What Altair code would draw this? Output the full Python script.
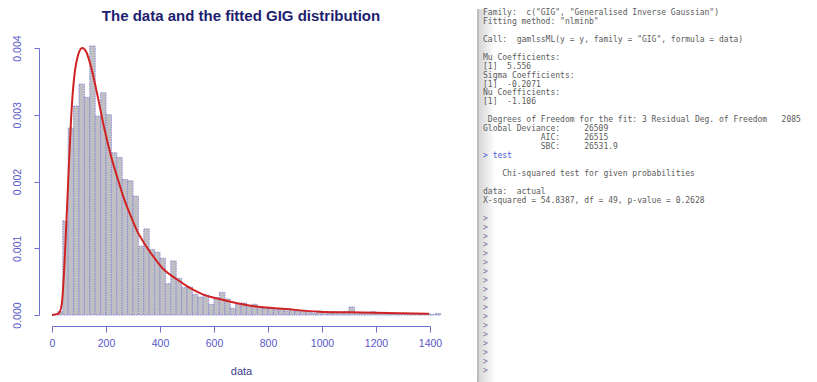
import altair as alt
import pandas as pd

# ---------------- data ----------------
bin_width = 20
bin_start = [0, 20, 40, 60, 80, 100, 120, 140, 160, 180, 200, 220, 240, 260, 280, 300,
             320, 340, 360, 380, 400, 420, 440, 460, 480, 500, 520, 540, 560, 580, 600,
             620, 640, 660, 680, 700, 720, 740, 760, 780, 800, 820, 840, 860, 880, 900,
             920, 940, 960, 980, 1000, 1020, 1040, 1060, 1080, 1100, 1120, 1140, 1160,
             1180, 1200, 1220, 1240, 1260, 1280, 1300, 1320, 1340, 1360, 1380, 1400, 1420]
density = [0.00001, 0.00005, 0.00141, 0.00280, 0.00313, 0.00346, 0.00326, 0.00403, 0.00298,
           0.00333, 0.00300, 0.00243, 0.00236, 0.00203, 0.00201, 0.00178, 0.00103, 0.00129,
           0.00098, 0.00094, 0.00085, 0.00047, 0.00081, 0.00055, 0.00041, 0.00042, 0.00031,
           0.00027, 0.00030, 0.00016, 0.00026, 0.00034, 0.00024, 0.00010, 0.00016, 0.00018,
           0.00014, 0.00016, 0.00011, 0.00010, 0.00010, 0.00008, 0.00010, 0.00006, 0.00008,
           0.00006, 0.00007, 0.00005, 0.00003, 0.00006, 0.00004, 0.00003, 0.00005, 0.00004,
           0.00005, 0.00012, 0.00004, 0.00003, 0.00004, 0.00005, 0.00003, 0.00004, 0.00002,
           0.00003, 0.00002, 0.00003, 0.00002, 0.00002, 0.00001, 0.00002, 0.00001, 0.00002]

curve_x = [0, 24, 36, 48, 61, 73, 85, 97, 112, 127, 145, 170, 194, 218, 242, 267, 291,
           315, 339, 364, 412, 461, 509, 558, 620, 741, 866, 989, 1111, 1237, 1396]
curve_y = [0.0, 0.00002, 0.00016, 0.00091, 0.00210, 0.00310, 0.00366, 0.00390, 0.00400,
           0.00394, 0.00371, 0.00326, 0.00279, 0.00239, 0.00206, 0.00174, 0.00149, 0.00126,
           0.00109, 0.00094, 0.00069, 0.00054, 0.00041, 0.00031, 0.00024, 0.000135,
           0.00009, 0.00005, 0.00004, 0.00003, 0.00002]

x_ticks = [0, 200, 400, 600, 800, 1000, 1200, 1400]
y_ticks = [0.000, 0.001, 0.002, 0.003, 0.004]

title_text = "The data and the fitted GIG distribution"
x_title = "data"

console_lines = [
    'Family:  c("GIG", "Generalised Inverse Gaussian")',
    'Fitting method: "nlminb"',
    '',
    'Call:  gamlssML(y = y, family = "GIG", formula = data)',
    '',
    'Mu Coefficients:',
    '[1]  5.556',
    'Sigma Coefficients:',
    '[1]  -0.2071',
    'Nu Coefficients:',
    '[1]  -1.106',
    '',
    ' Degrees of Freedom for the fit: 3 Residual Deg. of Freedom   2085',
    'Global Deviance:     26509',
    '            AIC:     26515',
    '            SBC:     26531.9',
    '> test',
    '',
    '    Chi-squared test for given probabilities',
    '',
    'data:  actual',
    'X-squared = 54.8387, df = 49, p-value = 0.2628',
    '',
] + ['>'] * 18
console_kind = (['out'] * 16 + ['cmd'] + ['out'] * 6 + ['prompt'] * 18)

# ---------------- left panel: histogram + fitted curve ----------------
hist_df = pd.DataFrame({
    "start": bin_start,
    "end": [s + bin_width for s in bin_start],
    "density": density,
})
curve_df = pd.DataFrame({"x": curve_x, "y": curve_y})

axis_blue = "#5858c8"
xscale = alt.Scale(domain=[0, 1400], nice=False, zero=False)
yscale = alt.Scale(domain=[0, 0.004], nice=False)

x_axis = alt.Axis(values=x_ticks, title=x_title, offset=11, tickSize=6, labelPadding=6,
                  labelFontSize=10.5, labelColor=axis_blue, domainColor="#7070d0",
                  tickColor="#7070d0", titleFontSize=11, titleColor="#3c3c8c",
                  titleFontWeight="normal", titlePadding=17, labelFlush=False,
                  labelOverlap=False, grid=False, format="d")
y_axis = alt.Axis(values=y_ticks, title=None, offset=13, tickSize=5, labelPadding=12,
                  labelAngle=270, labelAlign="center", labelBaseline="bottom",
                  labelFontSize=10.5, labelColor=axis_blue, domainColor="#7070d0",
                  tickColor="#7070d0", format=".3f", labelFlush=False,
                  labelOverlap=False, grid=False)

bars = alt.Chart(hist_df).mark_rect(
    fill="#c0c0c4", stroke="#8a8ad2", strokeWidth=1, strokeDash=[1.5, 1]
).encode(
    x=alt.X("start:Q", scale=xscale, axis=x_axis),
    x2="end:Q",
    y=alt.Y("density:Q", scale=yscale, axis=y_axis),
    y2=alt.datum(0),
)

curve = alt.Chart(curve_df).mark_line(
    color="#d02222", strokeWidth=2, interpolate="monotone"
).encode(
    x=alt.X("x:Q", scale=xscale),
    y=alt.Y("y:Q", scale=yscale),
)

left = alt.layer(bars, curve).properties(
    width=378, height=267,
    title=alt.TitleParams(text=title_text, fontSize=15, fontWeight="bold",
                          font="Liberation Sans", color="#1e1e70", anchor="middle",
                          frame="group", offset=11),
)

# ---------------- right panel: R console text ----------------
indent = [len(s) - len(s.lstrip(" ")) for s in console_lines]
con_df = pd.DataFrame({
    "line": list(range(len(console_lines))),
    "text": [s.strip(" ").replace(" ", "\u00a0") for s in console_lines],
    "kind": console_kind,
    "col": indent,
})

text = alt.Chart(con_df).mark_text(
    align="left", baseline="middle", font="DejaVu Sans Mono", fontSize=8, dx=6
).encode(
    x=alt.X("col:Q", scale=alt.Scale(domain=[0, 68.73], nice=False, zero=False), axis=None),
    y=alt.Y("line:Q", scale=alt.Scale(domain=[3.915, 33.78], nice=False, zero=False,
                                      reverse=True), axis=None),
    text="text:N",
    color=alt.Color("kind:N", scale=alt.Scale(domain=["out", "cmd", "prompt"],
                                              range=["#5a5a5a", "#4a5ad8", "#7a6f9a"]),
                    legend=None),
)

one = pd.DataFrame({"a": [0]})
shadow = alt.Chart(one).mark_rect(
    color=alt.LinearGradient(gradient="linear",
                             stops=[alt.GradientStop(color="#d6d6d6", offset=0),
                                    alt.GradientStop(color="#ffffff", offset=1)],
                             x1=0, x2=1, y1=0, y2=0)
).encode(x=alt.value(2), x2=alt.value(18), y=alt.value(-39), y2=alt.value(335))
rule = alt.Chart(one).mark_rule(color="#bdbdbd", strokeWidth=2).encode(
    x=alt.value(1), y=alt.value(-39), y2=alt.value(335))

right = alt.layer(shadow, rule, text).properties(width=331, height=267)

chart = alt.hconcat(left, right, spacing=35).properties(
    padding={"left": 4, "top": 0, "right": 0, "bottom": 0}
).configure_view(stroke=None).configure_axis(
    labelFont="Liberation Sans", titleFont="Liberation Sans"
)

chart.save("out.html", embed_options={"renderer": "svg", "actions": False})
